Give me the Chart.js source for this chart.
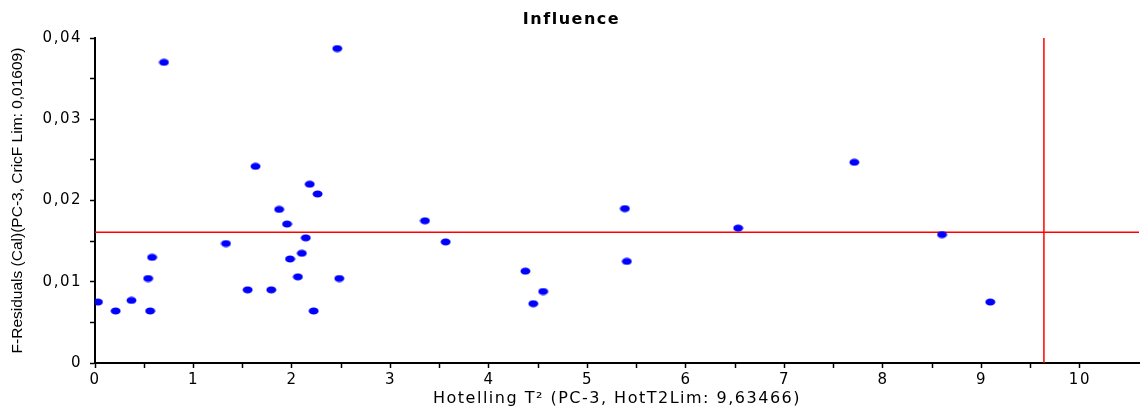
<!DOCTYPE html>
<html>
<head>
<meta charset="utf-8">
<script src="https://cdn.jsdelivr.net/npm/chart.js@4/dist/chart.umd.min.js"></script>
<style>
  html, body { margin: 0; padding: 0; background: #fff; }
  #wrap { width: 1145px; height: 409px; }
</style>
</head>
<body>
<div id="wrap"><canvas id="chart"></canvas></div>
<script>
// Hotelling T² per sample
const hotellingT2 = [
  0.03, 0.21, 0.37, 0.54, 0.56, 0.58, 0.70, 1.33, 1.55, 1.63, 1.79,
  1.87, 1.95, 1.98, 2.06, 2.10, 2.14, 2.18, 2.22, 2.26, 2.46, 2.48,
  3.35, 3.56, 4.37, 4.45, 4.55, 5.38, 5.40, 6.53, 7.71, 8.60, 9.09,
];
// F-residuals per sample
const fResiduals = [
  0.0075, 0.0064, 0.0077, 0.0104, 0.0064, 0.0130, 0.0370, 0.0147, 0.0090, 0.0242, 0.0090,
  0.0189, 0.0171, 0.0128, 0.0106, 0.0135, 0.0154, 0.0220, 0.0064, 0.0208, 0.0387, 0.0104,
  0.0175, 0.0149, 0.0113, 0.0073, 0.0088, 0.0190, 0.0125, 0.0166, 0.0247, 0.0158, 0.0075,
];
const hotT2Lim = 9.63466;
const fResLim = 0.01609;
const xMin = 0, xMax = 10.6;
const yMin = 0, yMax = 0.04;

const comma = v => String(+v.toFixed(4)).replace(".", ",");

// small ellipse marker like the original
const dot = document.createElement("canvas");
dot.width = 11;
dot.height = 8;
const dctx = dot.getContext("2d");
dctx.fillStyle = "#0000ff";
dctx.beginPath();
dctx.ellipse(5.5, 4, 5, 3.5, 0, 0, Math.PI * 2);
dctx.fill();

const points = hotellingT2.map((x, i) => ({ x: x, y: fResiduals[i] }));

// the original text is drawn wide, so space the letters a bit
const spacing = {
  id: "spacing",
  beforeUpdate: c => { c.ctx.letterSpacing = "1.5px"; },
  beforeDraw: c => { c.ctx.letterSpacing = "1.5px"; },
};

// y title is narrow in the original: draw it without the extra spacing
function plainTitle(s) {
  if (s._plainTitle) return;
  const orig = s.drawTitle;
  s.drawTitle = function () {
    const c = this.ctx;
    const prev = c.letterSpacing;
    c.letterSpacing = "0px";
    orig.apply(this, arguments);
    c.letterSpacing = prev;
  };
  s._plainTitle = true;
}

const axisFont = { family: "'DejaVu Sans', sans-serif", size: 15 };

new Chart(document.getElementById("chart"), {
  type: "scatter",
  data: {
    datasets: [
      {
        label: "Samples",
        data: points,
        pointStyle: dot,
        pointRadius: 5,
        pointHoverRadius: 5,
        backgroundColor: "#0000ff",
        borderColor: "#0000ff",
        order: 1,
      },
      {
        label: "F limit",
        type: "line",
        data: [{ x: xMin, y: fResLim }, { x: xMax, y: fResLim }],
        borderColor: "#ff0000",
        borderWidth: 1.5,
        pointRadius: 0,
        order: 2,
      },
      {
        label: "T2 limit",
        type: "line",
        data: [{ x: hotT2Lim, y: yMin }, { x: hotT2Lim, y: yMax }],
        borderColor: "#ff0000",
        borderWidth: 1.5,
        pointRadius: 0,
        order: 2,
      },
    ],
  },
  plugins: [spacing],
  options: {
    responsive: true,
    maintainAspectRatio: false,
    animation: false,
    layout: { padding: { left: 0, right: 2, top: 0, bottom: 0 } },
    plugins: {
      legend: { display: false },
      tooltip: { enabled: false },
      title: {
        display: true,
        text: "Influence",
        color: "#000",
        font: { family: "'DejaVu Sans', sans-serif", size: 16, weight: "bold" },
        padding: { top: 10, bottom: 8.8 },
      },
    },
    scales: {
      x: {
        type: "linear",
        min: xMin,
        max: xMax,
        afterFit: s => { s.height = 46; },
        afterBuildTicks: s => {
          s.ticks = s.ticks.filter(t => Math.abs(t.value * 2 - Math.round(t.value * 2)) < 1e-6);
        },
        border: { color: "#000", width: 2 },
        grid: { drawOnChartArea: false, drawTicks: true, tickLength: 5, color: "#000", tickWidth: 1.5 },
        ticks: {
          stepSize: 0.5,
          color: "#000",
          font: axisFont,
          padding: 3,
          maxRotation: 0,
          autoSkip: false,
          callback: v => (Math.abs(v - Math.round(v)) < 1e-6 ? comma(v) : ""),
        },
        title: {
          display: true,
          text: "Hotelling T² (PC-3, HotT2Lim: 9,63466)",
          color: "#000",
          font: { family: "'DejaVu Sans', sans-serif", size: 16 },
          padding: { top: 0, bottom: 1 },
        },
      },
      y: {
        type: "linear",
        min: yMin,
        max: yMax,
        afterFit: s => { s.width = 95; plainTitle(s); },
        border: { color: "#000", width: 2 },
        grid: { drawOnChartArea: false, drawTicks: true, tickLength: 5, color: "#000", tickWidth: 1.5 },
        ticks: {
          stepSize: 0.005,
          color: "#000",
          font: axisFont,
          padding: 8,
          autoSkip: false,
          callback: v => (Math.abs(v * 100 - Math.round(v * 100)) < 1e-6 ? comma(v) : ""),
        },
        title: {
          display: true,
          text: "F-Residuals (Cal)(PC-3, CricF Lim: 0,01609)",
          color: "#000",
          font: { family: "'Liberation Sans', sans-serif", size: 15.5 },
          padding: { top: 8, bottom: 0 },
        },
      },
    },
  },
});
</script>
</body>
</html>
